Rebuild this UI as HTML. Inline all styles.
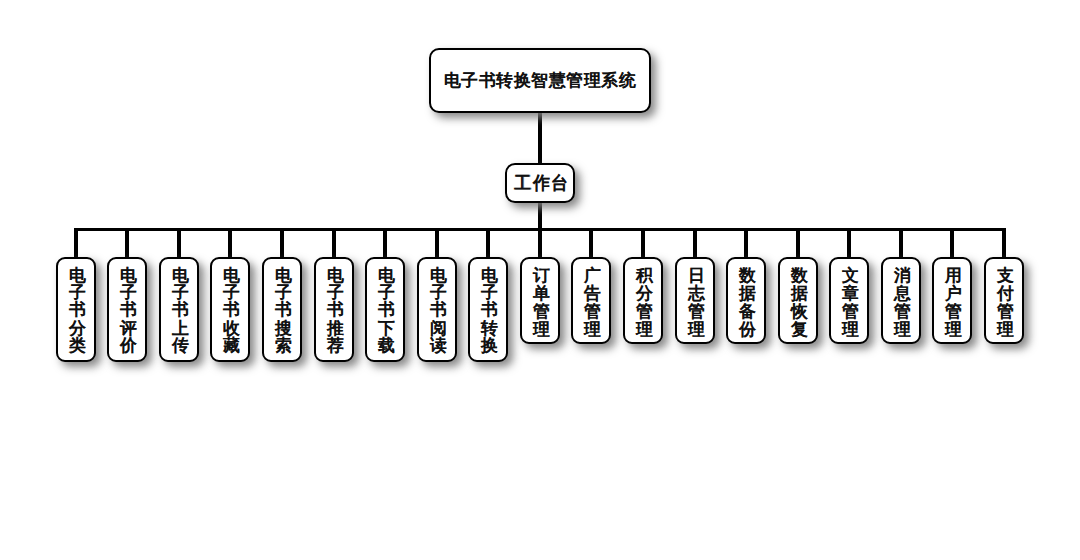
<!DOCTYPE html>
<html><head><meta charset="utf-8"><style>
html,body{margin:0;padding:0;background:#fff;width:1080px;height:560px;overflow:hidden}
body{position:relative;font-family:"Liberation Sans",sans-serif}
svg{position:absolute;left:0;top:0}
.b{position:absolute;box-sizing:border-box;border:2px solid #000;background:#fff;border-radius:10px;
box-shadow:5px 5px 8px rgba(126,126,126,0.91);color:#111;font-weight:bold;text-align:center;text-shadow:0.25px 0 0 rgba(17,17,17,0.6)}
.t{left:429px;top:48px;width:222px;height:65px;font-size:18px;line-height:61px}
.s{display:inline-block;transform:scale(0.94,0.95);letter-spacing:0.6px;text-indent:0.6px}
.w{left:505px;top:163px;width:70px;height:40px;font-size:18px;line-height:37px;padding-left:3px}
.v{top:257px;width:40px;border-radius:9px}
.tx{position:absolute;left:1px;top:7.8px;width:36px;font-size:18px;line-height:18.2px;transform:scale(0.94,0.95);transform-origin:50% 0}
</style></head><body>
<svg width="1080" height="560" viewBox="0 0 1080 560">
<rect x="538" y="100" width="4" height="70"/>
<rect x="538" y="195" width="4" height="35"/>
<rect x="74" y="228" width="932" height="3"/>
<rect x="74" y="229" width="4" height="30"/><rect x="125" y="229" width="4" height="30"/><rect x="177" y="229" width="4" height="30"/><rect x="228" y="229" width="4" height="30"/><rect x="280" y="229" width="4" height="30"/><rect x="332" y="229" width="4" height="30"/><rect x="383" y="229" width="4" height="30"/><rect x="435" y="229" width="4" height="30"/><rect x="486" y="229" width="4" height="30"/><rect x="538" y="229" width="4" height="30"/><rect x="589" y="229" width="4" height="30"/><rect x="641" y="229" width="4" height="30"/><rect x="693" y="229" width="4" height="30"/><rect x="744" y="229" width="4" height="30"/><rect x="796" y="229" width="4" height="30"/><rect x="847" y="229" width="4" height="30"/><rect x="899" y="229" width="4" height="30"/><rect x="950" y="229" width="4" height="30"/><rect x="1002" y="229" width="4" height="30"/>
</svg>
<div class="b t"><span class="s">电子书转换智慧管理系统</span></div>
<div class="b w"><span class="s" style="letter-spacing:1.6px;text-indent:1.6px;transform:scale(0.94,1)">工作台</span></div>
<div class="b v" style="left:56px;height:105px"><div class="tx">电<br>子<br>书<br>分<br>类</div></div><div class="b v" style="left:107px;height:105px"><div class="tx">电<br>子<br>书<br>评<br>价</div></div><div class="b v" style="left:159px;height:105px"><div class="tx">电<br>子<br>书<br>上<br>传</div></div><div class="b v" style="left:210px;height:105px"><div class="tx">电<br>子<br>书<br>收<br>藏</div></div><div class="b v" style="left:262px;height:105px"><div class="tx">电<br>子<br>书<br>搜<br>索</div></div><div class="b v" style="left:314px;height:105px"><div class="tx">电<br>子<br>书<br>推<br>荐</div></div><div class="b v" style="left:365px;height:105px"><div class="tx">电<br>子<br>书<br>下<br>载</div></div><div class="b v" style="left:417px;height:105px"><div class="tx">电<br>子<br>书<br>阅<br>读</div></div><div class="b v" style="left:468px;height:105px"><div class="tx">电<br>子<br>书<br>转<br>换</div></div><div class="b v" style="left:520px;height:87px"><div class="tx" style="line-height:18.85px">订<br>单<br>管<br>理</div></div><div class="b v" style="left:571px;height:87px"><div class="tx" style="line-height:18.85px">广<br>告<br>管<br>理</div></div><div class="b v" style="left:623px;height:87px"><div class="tx" style="line-height:18.85px">积<br>分<br>管<br>理</div></div><div class="b v" style="left:675px;height:87px"><div class="tx" style="line-height:18.85px">日<br>志<br>管<br>理</div></div><div class="b v" style="left:726px;height:87px"><div class="tx" style="line-height:18.85px">数<br>据<br>备<br>份</div></div><div class="b v" style="left:778px;height:87px"><div class="tx" style="line-height:18.85px">数<br>据<br>恢<br>复</div></div><div class="b v" style="left:829px;height:87px"><div class="tx" style="line-height:18.85px">文<br>章<br>管<br>理</div></div><div class="b v" style="left:881px;height:87px"><div class="tx" style="line-height:18.85px">消<br>息<br>管<br>理</div></div><div class="b v" style="left:932px;height:87px"><div class="tx" style="line-height:18.85px">用<br>户<br>管<br>理</div></div><div class="b v" style="left:984px;height:87px"><div class="tx" style="line-height:18.85px">支<br>付<br>管<br>理</div></div>
</body></html>
